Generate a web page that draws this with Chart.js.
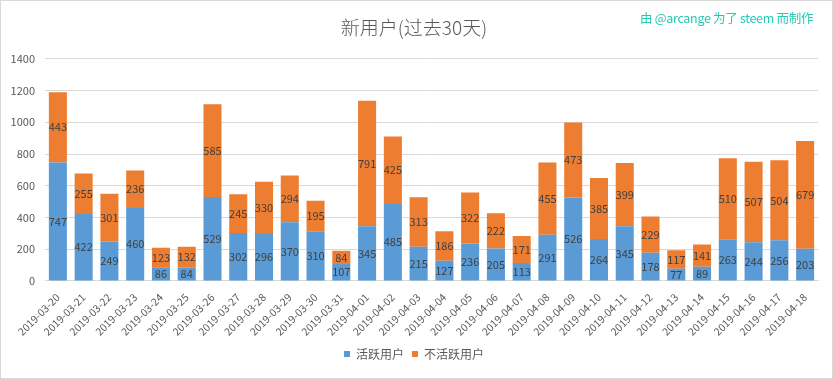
<!DOCTYPE html>
<html><head><meta charset="utf-8">
<script src="https://cdn.jsdelivr.net/npm/chart.js@4/dist/chart.umd.min.js"></script>
<style>
html,body{margin:0;padding:0;background:#fff;}
#wrap{position:relative;width:833px;height:379px;box-sizing:border-box;border:1px solid #d9d9d9;}
#wm{position:absolute;left:639px;top:7px;font-family:"Noto Sans CJK SC","Noto Sans",sans-serif;font-size:12.5px;color:#25c8b4;letter-spacing:-0.3px;white-space:nowrap;}
canvas{display:block;}
</style></head>
<body>
<div id="wrap"><canvas id="c" width="831" height="377"></canvas><div id="wm">由 @arcange 为了 steem 而制作</div></div>
<script>
const categories = ["2019-03-20","2019-03-21","2019-03-22","2019-03-23","2019-03-24","2019-03-25","2019-03-26","2019-03-27","2019-03-28","2019-03-29","2019-03-30","2019-03-31","2019-04-01","2019-04-02","2019-04-03","2019-04-04","2019-04-05","2019-04-06","2019-04-07","2019-04-08","2019-04-09","2019-04-10","2019-04-11","2019-04-12","2019-04-13","2019-04-14","2019-04-15","2019-04-16","2019-04-17","2019-04-18"];
const activeUsers = [747,422,249,460,86,84,529,302,296,370,310,107,345,485,215,127,236,205,113,291,526,264,345,178,77,89,263,244,256,203];
const inactiveUsers = [443,255,301,236,123,132,585,245,330,294,195,84,791,425,313,186,322,222,171,455,473,385,399,229,117,141,510,507,504,679];
const yTicks = [0,200,400,600,800,1000,1200,1400];
const seriesNames = ["活跃用户","不活跃用户"];
const titleText = "新用户(过去30天)";

const FONT = '"Noto Sans CJK SC","Noto Sans",sans-serif';

const labelPlugin = {
  id:'barLabels',
  afterDatasetsDraw(chart){
    const ctx = chart.ctx;
    ctx.save();
    ctx.font = '11px ' + FONT;
    ctx.fillStyle = '#404040';
    ctx.textAlign = 'center';
    ctx.textBaseline = 'middle';
    chart.data.datasets.forEach((ds,i)=>{
      const meta = chart.getDatasetMeta(i);
      meta.data.forEach((bar,j)=>{
        const y = (bar.y + bar.base)/2;
        ctx.fillText(String(ds.data[j]), bar.x, y);
      });
    });
    ctx.restore();
  }
};

new Chart(document.getElementById('c'),{
  type:'bar',
  data:{
    labels:categories,
    datasets:[
      {label:seriesNames[0],data:activeUsers,backgroundColor:'#5b9bd5',categoryPercentage:0.7,barPercentage:1.0},
      {label:seriesNames[1],data:inactiveUsers,backgroundColor:'#ed7d31',categoryPercentage:0.7,barPercentage:1.0}
    ]
  },
  options:{
    responsive:false,
    animation:false,
    devicePixelRatio:1,
    layout:{padding:{left:9,right:14,top:0,bottom:8}},
    plugins:{
      title:{display:true,text:titleText,color:'#595959',font:{family:FONT,size:19,weight:'300'},padding:{top:15,bottom:20}},
      legend:{position:'bottom',labels:{color:'#595959',font:{family:FONT,size:12},boxWidth:6,boxHeight:6,padding:8}},
      tooltip:{enabled:false}
    },
    scales:{
      x:{stacked:true,grid:{display:false},border:{color:'#d9d9d9'},
         afterFit(s){s.paddingLeft=0;s.paddingRight=0;},
         ticks:{color:'#595959',font:{family:FONT,size:10.5},maxRotation:45,minRotation:45,autoSkip:false,padding:2}},
      y:{stacked:true,min:0,max:1400,
         afterBuildTicks(s){s.ticks=yTicks.map(v=>({value:v}));},
         afterFit(s){s.width=35;},
         grid:{color:'#d9d9d9',drawTicks:false},border:{display:false},
         ticks:{color:'#595959',font:{family:FONT,size:11},padding:10,callback:v=>String(v)}}
    }
  },
  plugins:[labelPlugin]
});
</script>
</body></html>
